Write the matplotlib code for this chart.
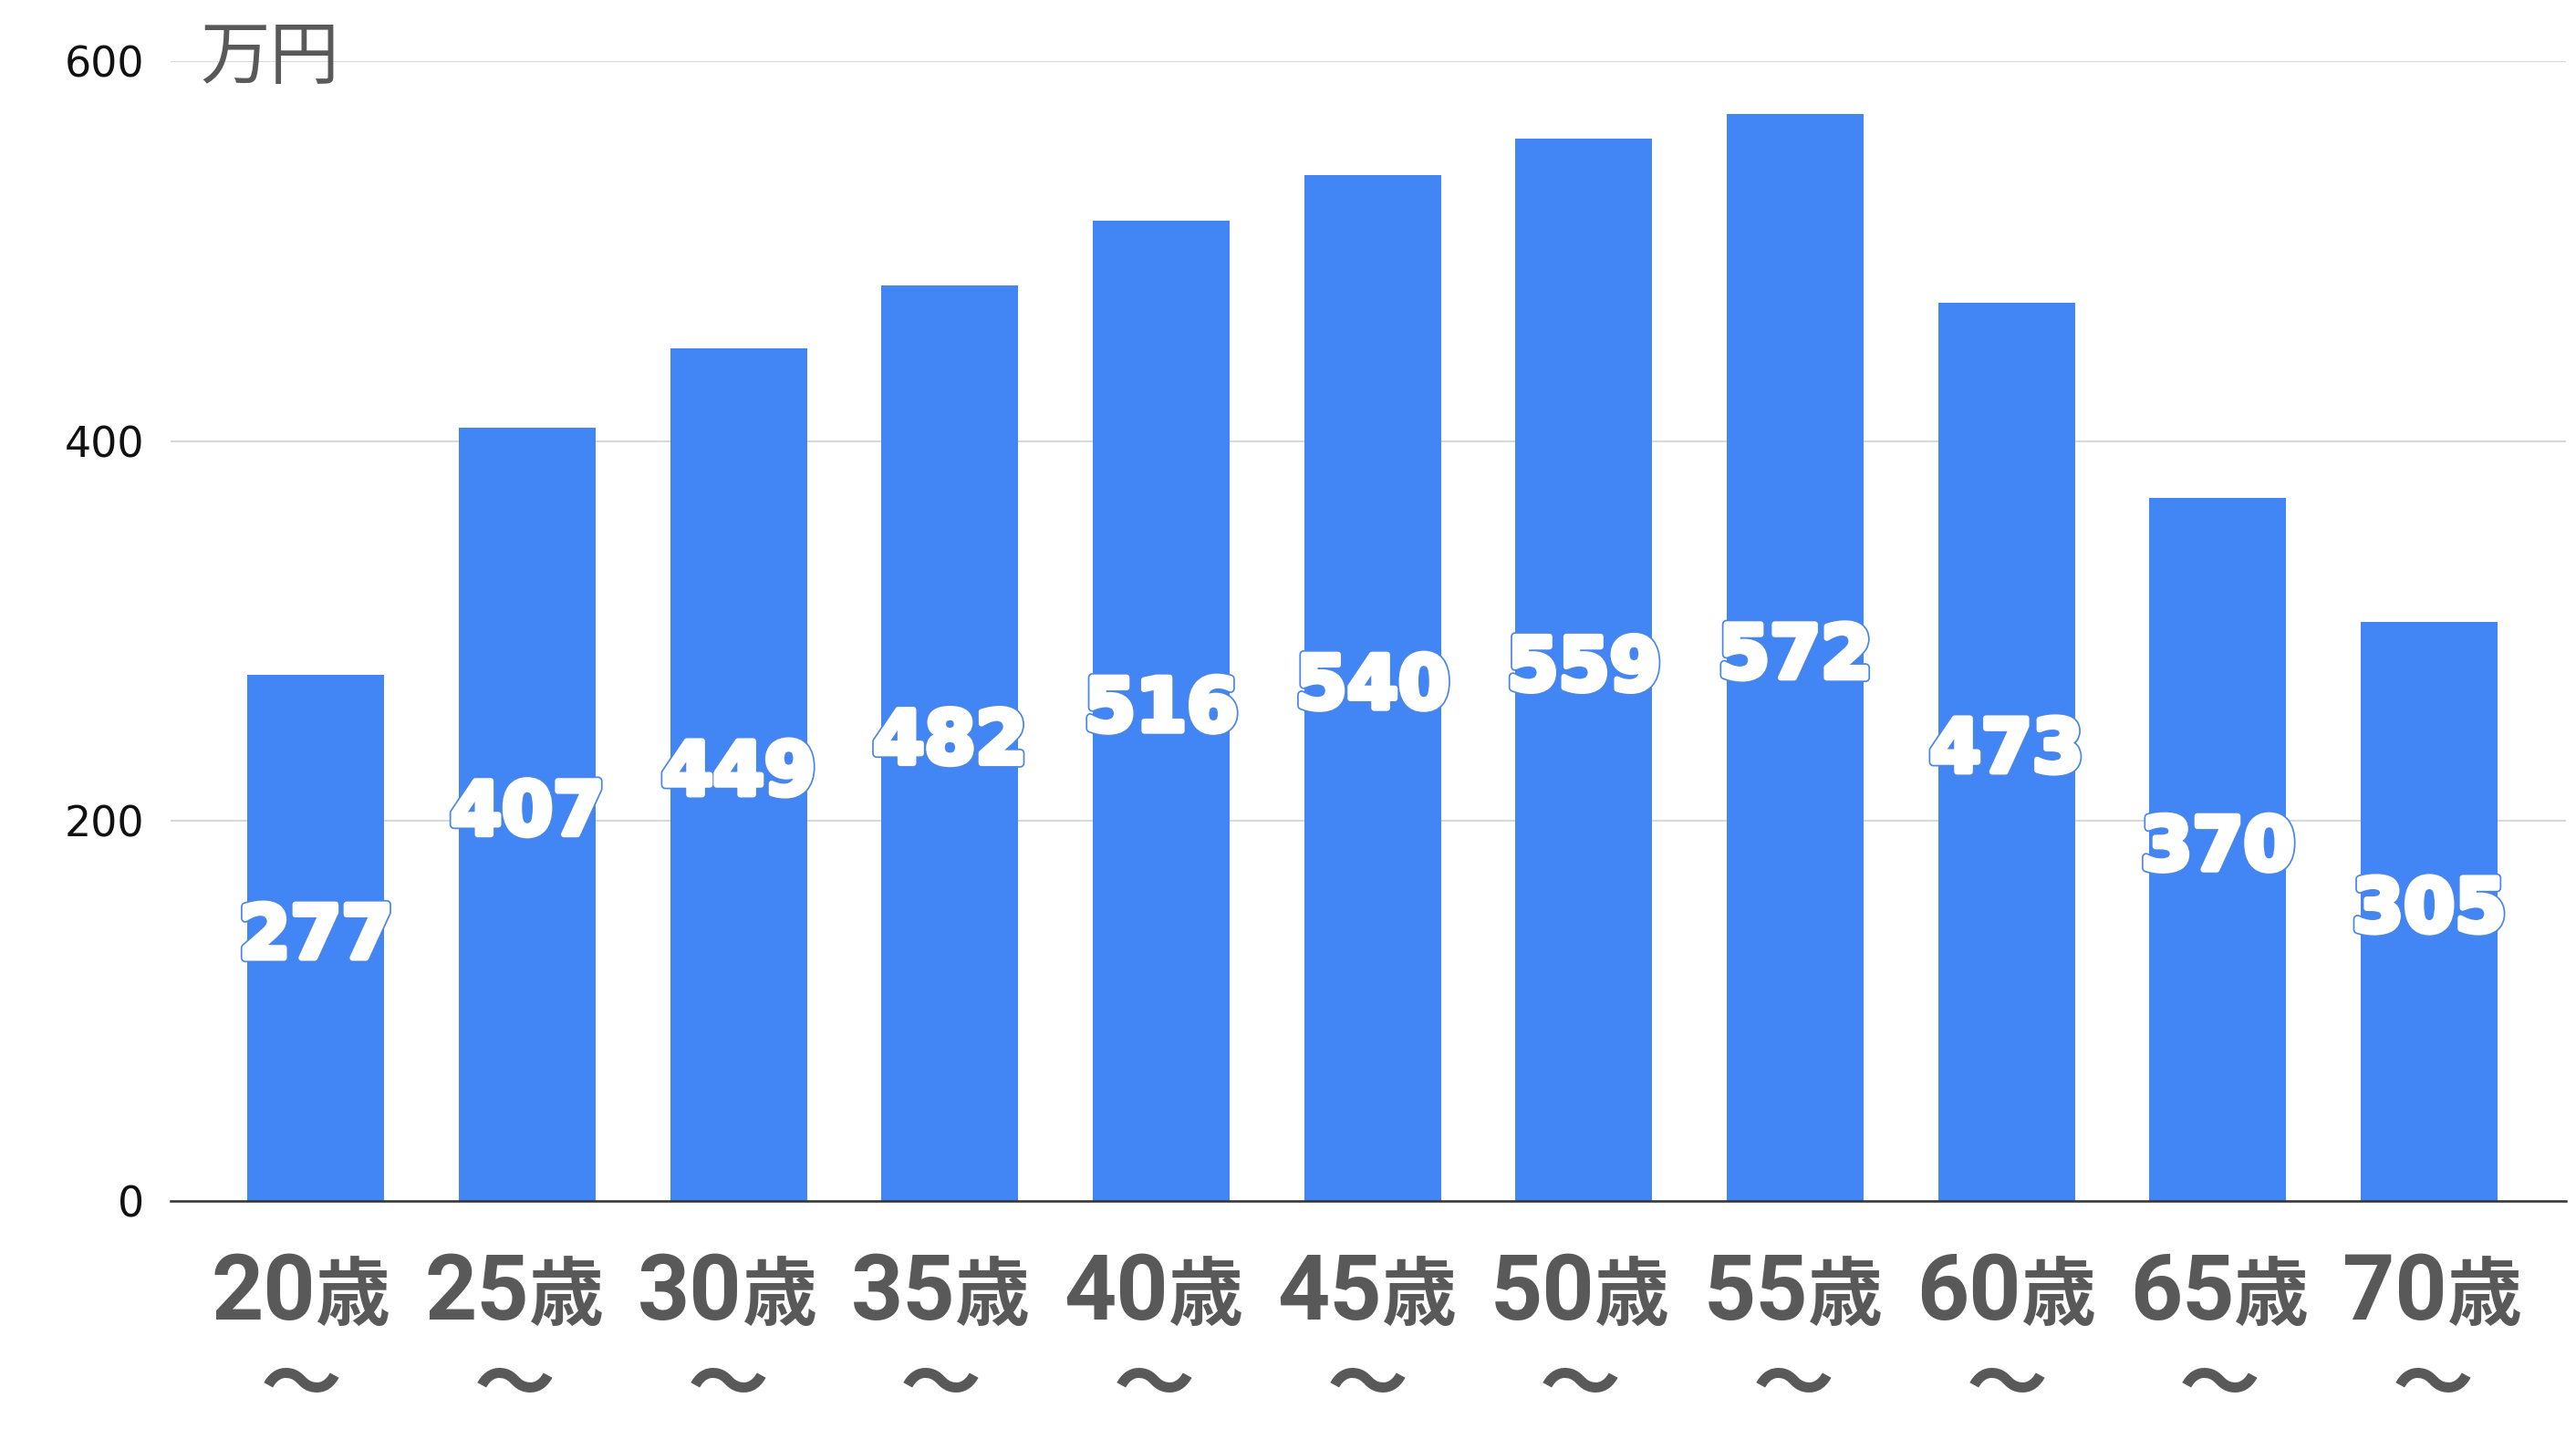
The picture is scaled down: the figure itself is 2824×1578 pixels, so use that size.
import matplotlib
matplotlib.use("Agg")
import matplotlib.pyplot as plt
import matplotlib.patheffects as pe
import numpy as np

# 年齢別の平均年収（万円）
ages = ["20", "25", "30", "35", "40", "45", "50", "55", "60", "65", "70"]
incomes = [277, 407, 449, 482, 516, 540, 559, 572, 473, 370, 305]
y_ticks = [0, 200, 400, 600]
unit_label = "万円"
age_suffix = "歳"
range_mark = "〜"

bar_color = "#4285f4"
text_gray = "#595959"
cjk = "Noto Sans CJK JP"

fig = plt.figure(figsize=(28.24, 15.78), dpi=100)
ax = fig.add_axes([0.0662, 0.1654, 0.9299, 0.7921])

x = np.arange(len(ages))
ax.bar(x, incomes, width=0.647, color=bar_color, zorder=2)

ax.set_xlim(-0.688, len(ages) - 1 + 0.647)
ax.set_ylim(0, 600)
ax.set_yticks(y_ticks)
ax.set_yticklabels([str(t) for t in y_ticks], fontsize=33,
                   family="DejaVu Sans", color="#111111")
ax.tick_params(axis="y", length=0, pad=21)
ax.set_xticks(x)
ax.set_xticklabels([""] * len(ages))
ax.tick_params(axis="x", length=0)

ax.grid(axis="y", color="#d9d9d9", linewidth=1.5, zorder=0)
for side in ["top", "right", "left"]:
    ax.spines[side].set_visible(False)
ax.spines["bottom"].set_color("#333333")
ax.spines["bottom"].set_linewidth(1.8)
ax.spines["bottom"].set_zorder(3)

# 値ラベル（白抜き・青の縁取り）
outline = [pe.Stroke(linewidth=7, foreground="#4a86e8"),
           pe.Stroke(linewidth=4.5, foreground="white"),
           pe.Normal()]
for xi, v in zip(x, incomes):
    ax.text(xi, v / 2, str(v), ha="center", va="center", color="white",
            fontsize=58, fontweight="bold", family="DejaVu Sans",
            path_effects=outline, zorder=4)

# 横軸ラベル: 数字 + 歳 / 〜  (ラベルは右へ少しずつずれている)
for xi, a in zip(x, ages):
    dx = 1.44 * xi
    ax.annotate(a, xy=(xi, 0), xycoords=("data", "axes fraction"),
                xytext=(dx, -93.6), textcoords="offset points",
                ha="right", va="baseline", fontsize=72, fontweight="bold",
                family="Roboto", color=text_gray, annotation_clip=False)
    ax.annotate(age_suffix, xy=(xi, 0), xycoords=("data", "axes fraction"),
                xytext=(dx, -93.6), textcoords="offset points",
                ha="left", va="baseline", fontsize=59, fontweight="bold",
                family=cjk, color=text_gray, annotation_clip=False)
    ax.annotate(range_mark, xy=(xi, 0), xycoords=("data", "axes fraction"),
                xytext=(dx - 11.5, -147), textcoords="offset points",
                ha="center", va="center", fontsize=64, fontweight="bold",
                family=cjk, color=text_gray, annotation_clip=False)

fig.text(0.0776, 1 - 64 / 1578, unit_label, ha="left", va="center",
         fontsize=55, family=cjk, color=text_gray)

fig.savefig("out.png", dpi=100)
